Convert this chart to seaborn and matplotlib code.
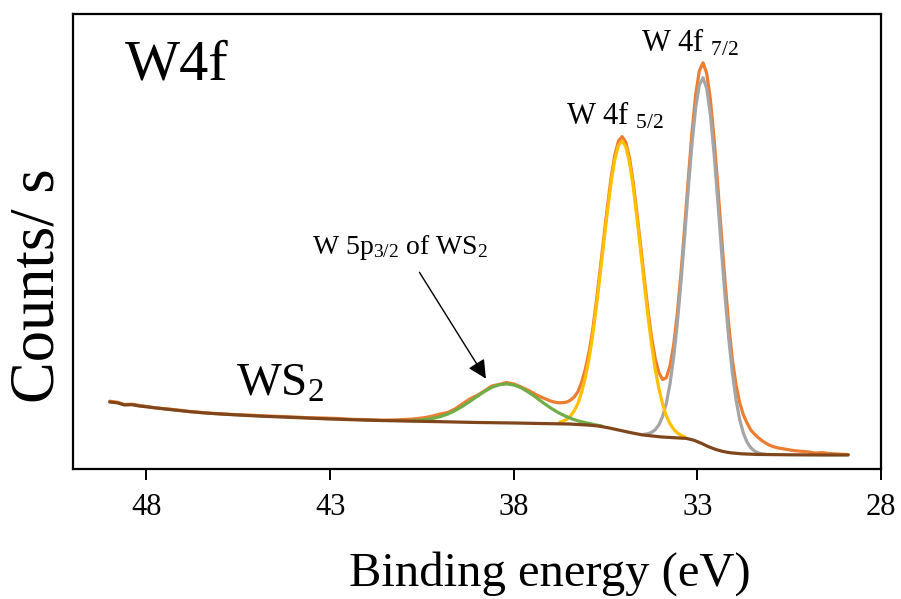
import matplotlib
matplotlib.use("Agg")
import matplotlib.pyplot as plt
import seaborn as sns

# values (binding energy in eV, counts in arb. units)
raw_energy = [
    49.0, 48.8, 48.6, 48.4, 48.2, 48.0, 47.8, 47.6, 47.4, 47.2, 47.0, 46.8, 46.6, 46.4,
    46.2, 46.0, 45.6, 45.2, 44.8, 44.4, 44.0, 43.6, 43.2, 42.8, 42.4, 42.0, 41.6, 41.2,
    41.0, 40.8, 40.6, 40.4, 40.2, 40.0, 39.8, 39.6, 39.4, 39.2, 39.0, 38.8, 38.6, 38.4,
    38.2, 38.0, 37.8, 37.6, 37.4, 37.2, 37.0,
    36.85, 36.75, 36.65, 36.55, 36.45, 36.35, 36.25, 36.15, 36.05, 35.95, 35.85, 35.75,
    35.65, 35.55, 35.45, 35.35, 35.25, 35.15, 35.05, 34.95, 34.85, 34.75, 34.65, 34.55,
    34.45, 34.35, 34.25, 34.15, 34.05, 33.95, 33.85, 33.75, 33.65, 33.55, 33.45, 33.35,
    33.25, 33.15, 33.05, 32.95, 32.85, 32.75, 32.65, 32.55, 32.45, 32.35, 32.25, 32.15,
    32.05, 31.95, 31.85, 31.75, 31.65, 31.55, 31.45, 31.35, 31.25, 31.15, 31.05, 30.95,
    30.8, 30.6, 30.4, 30.2, 30.0, 29.8, 29.6, 29.4, 29.2, 29.0, 28.9,
]
raw_counts = [
    67.8, 66.8, 64.5, 64.8, 63.6, 62.6, 61.3, 60.6, 60.0, 59.2, 58.4, 57.3, 56.9, 56.2,
    55.6, 55.3, 54.4, 53.9, 53.1, 52.6, 52.0, 51.3, 51.0, 50.5, 49.6, 49.4, 48.8, 49.1,
    49.5, 49.8, 50.6, 51.5, 53.0, 55.0, 56.5, 60.0, 65.0, 70.0, 73.5, 78.0, 83.0, 84.5,
    86.5, 85.0, 82.0, 78.5, 74.5, 71.0, 68.0,
    66.5, 66.2, 66.4, 67.0, 69.0, 72.2, 77.6, 87.1, 100.3, 117.5, 139.8, 168.2,
    199.4, 231.5, 262.7, 291.6, 313.8, 328.0, 332.2, 326.5, 310.6, 286.8, 256.2, 223.7,
    190.7, 159.2, 131.6, 110.3, 96.2, 89.5, 91.1, 102.8, 123.7, 155.3, 195.3, 241.3,
    290.5, 336.3, 374.2, 397.9, 406.0, 395.7, 369.6, 330.8, 284.2, 235.0, 187.5, 144.6,
    108.9, 84.0, 66.0, 54.0, 46.0, 39.0, 35.0, 31.5, 28.5, 26.0, 24.0, 22.5,
    21.0, 19.8, 18.5, 17.8, 17.2, 16.0, 16.4, 15.4, 15.0, 14.6, 14.5,
]

w4f72_energy = [
    34.45, 34.35, 34.25, 34.15, 34.05, 33.95, 33.85, 33.75, 33.65, 33.55, 33.45, 33.35,
    33.25, 33.15, 33.05, 32.95, 32.85, 32.75, 32.65, 32.55, 32.45, 32.35, 32.25, 32.15,
    32.05, 31.95, 31.85, 31.75, 31.65, 31.55, 31.45, 31.35, 31.25, 31.15,
]
w4f72_counts = [
    34.7, 35.2, 36.6, 39.3, 44.2, 52.5, 65.6, 84.8, 111.2, 145.3, 186.4, 232.7,
    280.6, 324.8, 361.0, 383.9, 391.0, 380.7, 354.6, 315.8, 269.2, 220.0, 172.5, 130.6,
    95.9, 68.9, 49.2, 35.7, 26.8, 21.3, 18.1, 16.2, 15.2, 14.7,
]

w4f52_energy = [
    36.75, 36.65, 36.55, 36.45, 36.35, 36.25, 36.15, 36.05, 35.95, 35.85, 35.75, 35.65,
    35.55, 35.45, 35.35, 35.25, 35.15, 35.05, 34.95, 34.85, 34.75, 34.65, 34.55, 34.45,
    34.35, 34.25, 34.15, 34.05, 33.95, 33.85, 33.75, 33.65, 33.55, 33.45, 33.35,
]
w4f52_counts = [
    46.8, 47.9, 49.9, 53.3, 58.6, 65.9, 77.2, 92.0, 110.7, 134.3, 163.0, 194.4,
    226.7, 258.0, 287.2, 309.4, 323.6, 327.8, 322.0, 306.1, 282.4, 251.8, 219.2, 185.8,
    153.4, 124.0, 99.6, 80.2, 64.9, 53.2, 45.5, 39.8, 36.0, 33.7, 32.1,
]

w5p_energy = [
    40.8, 40.6, 40.4, 40.2, 40.0, 39.8, 39.6, 39.4, 39.2, 39.0, 38.8, 38.6, 38.4, 38.2,
    38.0, 37.8, 37.6, 37.4, 37.2, 37.0, 36.8, 36.6, 36.4, 36.2, 36.0, 35.8, 35.6,
]
w5p_counts = [
    48.5, 48.7, 49.5, 50.6, 52.4, 54.9, 58.4, 62.6, 67.5, 72.6, 77.5, 81.6, 84.2, 85.1,
    84.0, 81.2, 76.8, 71.7, 66.2, 61.1, 56.6, 52.9, 49.9, 47.6, 45.9, 44.3, 42.9,
]

bg_energy = [
    49.0, 48.8, 48.6, 48.4, 48.2, 48.0, 47.5, 47.0, 46.5, 46.0, 45.5, 45.0, 44.0, 43.0,
    42.0, 41.0, 40.0, 39.0, 38.0, 37.0, 36.5, 36.0, 35.7, 35.4, 35.1, 34.8, 34.5, 34.0,
    33.5, 33.3, 33.1, 32.9, 32.7, 32.5, 32.3, 32.1, 31.8, 31.4, 30.5, 29.5, 28.9,
]
bg_counts = [
    67.0, 66.2, 64.0, 64.3, 63.0, 62.2, 60.0, 58.0, 56.3, 55.0, 54.0, 53.0, 51.5, 50.0,
    48.8, 48.0, 47.3, 46.5, 46.0, 45.3, 45.0, 44.0, 43.0, 41.0, 38.6, 36.2, 34.1, 32.1,
    31.0, 30.6, 28.8, 25.8, 22.3, 19.5, 17.5, 16.2, 15.2, 14.6, 14.2, 14.0, 14.0,
]

x_ticks = [48, 43, 38, 33, 28]

sns.set_style("ticks")
plt.rcParams["font.family"] = ["Liberation Serif", "DejaVu Serif"]
plt.rcParams["mathtext.fontset"] = "custom"
plt.rcParams["mathtext.rm"] = "Liberation Serif"
plt.rcParams["mathtext.it"] = "Liberation Serif:italic"
plt.rcParams["text.color"] = "black"
plt.rcParams["axes.labelcolor"] = "black"
plt.rcParams["xtick.color"] = "black"

fig = plt.figure(figsize=(9.01, 5.99), dpi=100)
ax = fig.add_axes([0.081, 0.217, 0.897, 0.760])

lw = 2.3
sns.lineplot(x=raw_energy, y=raw_counts, ax=ax, color="#ED7D31", lw=lw, estimator=None)
sns.lineplot(x=w4f72_energy, y=w4f72_counts, ax=ax, color="#A5A5A5", lw=lw, estimator=None)
sns.lineplot(x=w4f52_energy, y=w4f52_counts, ax=ax, color="#FFC000", lw=lw, estimator=None)
sns.lineplot(x=w5p_energy, y=w5p_counts, ax=ax, color="#70AD47", lw=lw, estimator=None)
sns.lineplot(x=bg_energy, y=bg_counts, ax=ax, color="#80461B", lw=lw, estimator=None)

ax.set_xlim(50, 28)
ax.set_ylim(0, 455)
ax.set_xticks(x_ticks)
ax.set_yticks([])
ax.tick_params(axis="x", direction="out", length=8, width=1.4, labelsize=22, pad=9,
               colors="black")
for side in ["left", "right", "top", "bottom"]:
    ax.spines[side].set_visible(True)
    ax.spines[side].set_linewidth(1.6)
    ax.spines[side].set_color("black")

ax.set_xlabel("Binding energy (eV)", fontsize=35)
ax.xaxis.set_label_coords(0.59, -0.18)
ax.set_ylabel("Counts/ s", fontsize=45)
ax.yaxis.set_label_coords(-0.007, 0.402)

ax.text(0.064, 0.855, "W4f", transform=ax.transAxes, fontsize=42, ha="left", va="baseline")
ax.text(36.58, 344, r"W 4f $_{\mathrm{5/2}}$", fontsize=22, ha="left", va="baseline")
ax.text(34.53, 417, r"W 4f $_{\mathrm{7/2}}$", fontsize=22, ha="left", va="baseline")
ax.text(45.56, 73, r"WS$_{\mathrm{2}}$", fontsize=34, ha="left", va="baseline")
ax.text(38.7, 215, r"W 5p$_{\mathrm{3/2}}$ of WS$_{\mathrm{2}}$", fontsize=20, ha="right",
        va="baseline")
ax.annotate("", xy=(38.72, 88), xytext=(40.61, 199),
            arrowprops=dict(arrowstyle="-|>", color="black", lw=1.0, mutation_scale=28))

fig.savefig("out.png", dpi=100)
